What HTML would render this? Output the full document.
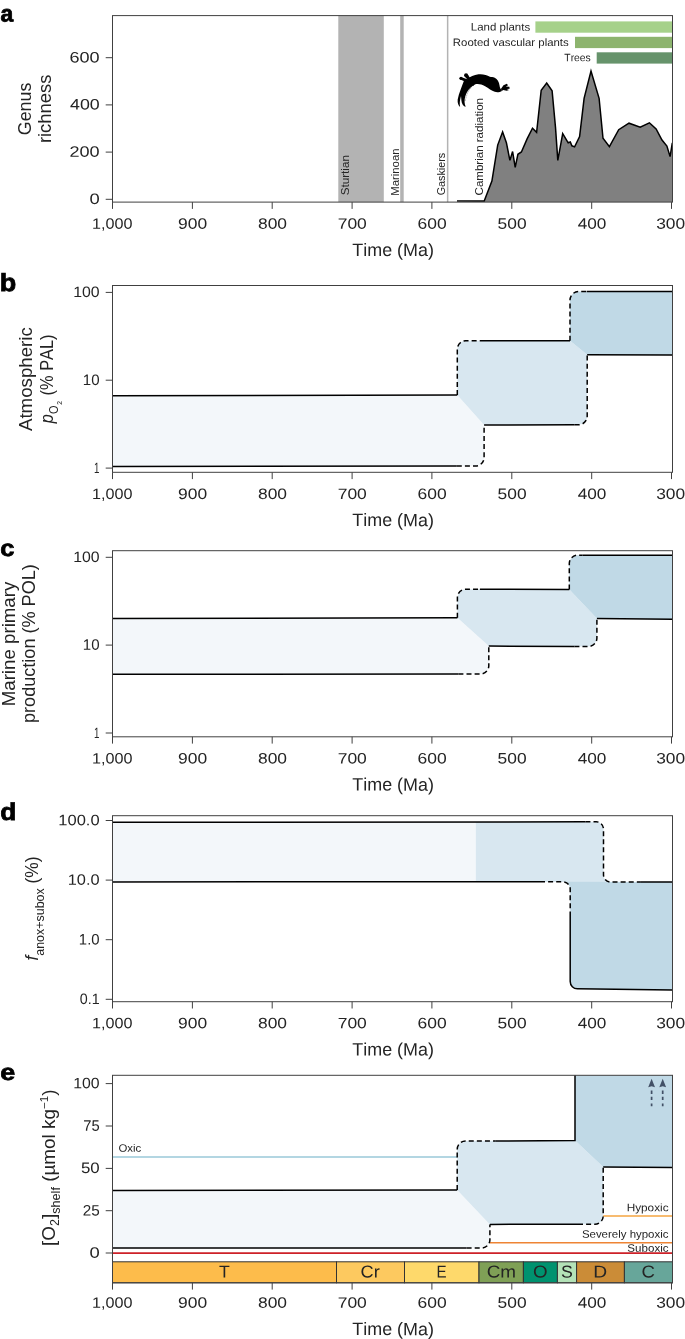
<!DOCTYPE html>
<html><head><meta charset="utf-8"><title>Figure</title>
<style>
html,body{margin:0;padding:0;background:#fff;}
body{width:685px;height:1339px;overflow:hidden;font-family:"Liberation Sans",sans-serif;}
svg{display:block;font-family:"Liberation Sans",sans-serif;will-change:transform;}
text{font-kerning:none;white-space:pre;}
.tx{fill:#242424;}
.pl{fill:#000;stroke:#000;stroke-width:0.7px;}
.ax{stroke:#404040;stroke-width:1;fill:none;}
.bk{stroke:#000;stroke-width:1.5;fill:none;stroke-linejoin:miter;}
.ds{stroke:#000;stroke-width:1.5;fill:none;stroke-dasharray:5 3.1;}
</style></head><body>
<svg width="685" height="1339" viewBox="0 0 685 1339">

<rect x="338.3" y="15.6" width="45.5" height="186.5" fill="#b3b3b3"/>
<rect x="400.2" y="15.6" width="3.5" height="186.5" fill="#b3b3b3"/>
<rect x="446.9" y="15.6" width="1.5" height="186.5" fill="#b3b3b3"/>
<polygon points="457,201 484.2,201 491.9,181.1 497.7,145.1 502.6,132 506.4,142.8 509.9,160.4 512.6,151.5 515.2,167.3 517.9,154.3 521.4,152 527.1,138.9 532.5,128.2 536.6,132.3 541.2,90.2 546.7,83 552.1,90.7 555.5,127.4 557.8,160.4 562.7,133.6 568.2,142.8 570.3,142 571.9,145.8 574.6,146.9 579.6,136.6 584.1,98.3 591,71 599.1,98.3 603,138.2 609.4,146.6 618.7,129.7 629,123.2 640.2,127.1 649.4,122.8 656.1,129 662,140 666.9,146.1 670.1,156.6 672.3,142.8 672.5,202.1 484.2,202.1" fill="#808080"/>
<polyline points="457,201 484.2,201 491.9,181.1 497.7,145.1 502.6,132 506.4,142.8 509.9,160.4 512.6,151.5 515.2,167.3 517.9,154.3 521.4,152 527.1,138.9 532.5,128.2 536.6,132.3 541.2,90.2 546.7,83 552.1,90.7 555.5,127.4 557.8,160.4 562.7,133.6 568.2,142.8 570.3,142 571.9,145.8 574.6,146.9 579.6,136.6 584.1,98.3 591,71 599.1,98.3 603,138.2 609.4,146.6 618.7,129.7 629,123.2 640.2,127.1 649.4,122.8 656.1,129 662,140 666.9,146.1 670.1,156.6 672.3,142.8" class="bk"/>
<rect x="535.4" y="21.4" width="137.1" height="11.3" fill="#a6d18a"/>
<rect x="575.0" y="36.8" width="97.5" height="11.3" fill="#8db46e"/>
<rect x="596.7" y="52.3" width="75.8" height="11.3" fill="#66936b"/>
<text class="tx" transform="translate(470.86,30.60) rotate(0.03) scale(1.0629,1)"><tspan font-size="10.8">Land plants</tspan></text>
<text class="tx" transform="translate(452.86,45.90) rotate(0.03) scale(1.0554,1)"><tspan font-size="10.8">Rooted vascular plants</tspan></text>
<text class="tx" transform="translate(564.37,61.30) rotate(0.03) scale(0.9565,1)"><tspan font-size="10.8">Trees</tspan></text>
<text class="tx" transform="translate(349.20,195.33) rotate(-90) scale(1.0825,1)"><tspan font-size="10.8">Sturtian</tspan></text>
<text class="tx" transform="translate(399.00,195.73) rotate(-90) scale(1.0498,1)"><tspan font-size="10.8">Marinoan</tspan></text>
<text class="tx" transform="translate(445.20,195.34) rotate(-90) scale(0.9982,1)"><tspan font-size="10.8">Gaskiers</tspan></text>
<text class="tx" transform="translate(483.40,195.39) rotate(-90) scale(1.0689,1)"><tspan font-size="10.8">Cambrian radiation</tspan></text>
<g transform="translate(454,68) scale(0.08759)" fill="#000"><path d="M155,125 C185,100 225,78 280,72 C330,66 375,82 410,100 C425,106 445,102 465,110 C495,122 515,160 520,200 C523,225 530,238 540,245 L548,262 C525,275 495,280 465,272 C430,260 395,232 355,208 C320,188 285,180 255,184 C240,186 228,195 222,205 L150,150 Z"/><path d="M535,240 L565,198 L603,180 L617,196 L592,212 L632,214 L636,236 L602,240 L628,252 L602,260 L560,252 L548,264 Z"/><circle cx="80" cy="118" r="19"/><circle cx="138" cy="84" r="23"/><path d="M70,132 L140,160 L160,130 L95,108 Z"/><path d="M125,100 L160,140 L185,118 L158,75 Z"/><path d="M118,135 C95,200 55,290 42,360 C38,400 50,430 70,446 C62,410 66,370 80,320 C84,350 82,390 100,420 C110,435 122,442 134,442 C118,410 116,370 130,320 C145,272 170,232 220,200 L165,130 Z"/><path d="M196,220 L186,240 M180,238 L171,258 M167,258 L159,278 M156,280 L149,300 M147,304 L142,324 M139,330 L135,350 M132,356 L130,376" stroke="#000" stroke-width="3" fill="none"/></g>
<rect class="ax" x="112.5" y="15.6" width="560.0" height="186.5"/>
<line class="ax" x1="112.5" y1="202.1" x2="112.5" y2="208.9"/>
<text class="tx" transform="translate(91.97,228.70) rotate(0.03) scale(1.0708,1)"><tspan font-size="15.1">1,000</tspan></text>
<line class="ax" x1="192.4" y1="202.1" x2="192.4" y2="208.9"/>
<text class="tx" transform="translate(178.04,228.70) rotate(0.03) scale(1.1550,1)"><tspan font-size="15.1">900</tspan></text>
<line class="ax" x1="272.2" y1="202.1" x2="272.2" y2="208.9"/>
<text class="tx" transform="translate(257.96,228.70) rotate(0.03) scale(1.1525,1)"><tspan font-size="15.1">800</tspan></text>
<line class="ax" x1="352.1" y1="202.1" x2="352.1" y2="208.9"/>
<text class="tx" transform="translate(337.68,228.70) rotate(0.03) scale(1.1582,1)"><tspan font-size="15.1">700</tspan></text>
<line class="ax" x1="431.9" y1="202.1" x2="431.9" y2="208.9"/>
<text class="tx" transform="translate(417.55,228.70) rotate(0.03) scale(1.1579,1)"><tspan font-size="15.1">600</tspan></text>
<line class="ax" x1="511.8" y1="202.1" x2="511.8" y2="208.9"/>
<text class="tx" transform="translate(497.60,228.70) rotate(0.03) scale(1.1500,1)"><tspan font-size="15.1">500</tspan></text>
<line class="ax" x1="591.7" y1="202.1" x2="591.7" y2="208.9"/>
<text class="tx" transform="translate(577.77,228.70) rotate(0.03) scale(1.1378,1)"><tspan font-size="15.1">400</tspan></text>
<line class="ax" x1="671.5" y1="202.1" x2="671.5" y2="208.9"/>
<text class="tx" transform="translate(656.16,228.70) rotate(0.03) scale(1.1486,1)"><tspan font-size="15.1">300</tspan></text>
<line class="ax" x1="105.7" y1="199.3" x2="112.5" y2="199.3"/>
<text class="tx" transform="translate(89.48,204.00) rotate(0.03) scale(1.2191,1)"><tspan font-size="15.1">0</tspan></text>
<line class="ax" x1="105.7" y1="152.1" x2="112.5" y2="152.1"/>
<text class="tx" transform="translate(69.49,156.80) rotate(0.03) scale(1.1994,1)"><tspan font-size="15.1">200</tspan></text>
<line class="ax" x1="105.7" y1="104.89999999999998" x2="112.5" y2="104.89999999999998"/>
<text class="tx" transform="translate(69.99,109.60) rotate(0.03) scale(1.1790,1)"><tspan font-size="15.1">400</tspan></text>
<line class="ax" x1="105.7" y1="57.69999999999996" x2="112.5" y2="57.69999999999996"/>
<text class="tx" transform="translate(69.48,62.40) rotate(0.03) scale(1.1998,1)"><tspan font-size="15.1">600</tspan></text>
<text class="tx" transform="translate(352.30,255.90) rotate(0.03) scale(0.9966,1)"><tspan font-size="18.0">Time (Ma)</tspan></text>
<text transform="translate(0.38,21.52) rotate(0.03) scale(0.2288,0.2336)" font-size="100" font-weight="bold" fill="#000" stroke="#000" stroke-width="3.46">a</text>
<text class="tx" transform="translate(31.40,135.20) rotate(-90) scale(0.9907,1)"><tspan font-size="18.0">Genus</tspan></text>
<text class="tx" transform="translate(51.00,143.12) rotate(-90) scale(1.0218,1)"><tspan font-size="18.0">richness</tspan></text>
<path d="M112.5,395.8 L457.3,395 L484.1,425 L484.1,457.5 A8.5,8.5 0 0 1 475.6,466 L112.5,466.6 Z" fill="#f3f7fa"/>
<path d="M457.3,395 L457.3,349.3 A8.5,8.5 0 0 1 465.8,340.8 L570,340.8 L587.2,354.7 L587.2,416.2 A8.5,8.5 0 0 1 578.7,424.7 L484.1,425 Z" fill="#d8e7f0"/>
<path d="M570,340.8 L570,300.1 A8.5,8.5 0 0 1 578.5,291.6 L672.5,291.6 L672.5,354.9 L587.2,354.7 Z" fill="#c0d9e6"/>
<path class="bk" d="M112.5,395.8 L457.3,395 M112.5,466.6 L456.8,466 M480,340.8 L570,340.8 M484.1,425 L574.7,424.7 M586.8,291.6 L672.5,291.6 M587.2,354.7 L672.5,354.9"/>
<path class="ds" d="M456.8,466 L475.6,466 A8.5,8.5 0 0 0 484.1,457.5 L484.1,425"/>
<path class="ds" d="M457.3,395 L457.3,349.3 A8.5,8.5 0 0 1 465.8,340.8 L480,340.8"/>
<path class="ds" d="M574.7,424.7 L578.7,424.7 A8.5,8.5 0 0 0 587.2,416.2 L587.2,354.7"/>
<path class="ds" d="M570,340.8 L570,300.1 A8.5,8.5 0 0 1 578.5,291.6 L586.8,291.6"/>
<rect class="ax" x="112.5" y="285.5" width="560.0" height="186.8"/>
<line class="ax" x1="112.5" y1="472.3" x2="112.5" y2="479.1"/>
<text class="tx" transform="translate(91.97,498.90) rotate(0.03) scale(1.0708,1)"><tspan font-size="15.1">1,000</tspan></text>
<line class="ax" x1="192.4" y1="472.3" x2="192.4" y2="479.1"/>
<text class="tx" transform="translate(178.04,498.90) rotate(0.03) scale(1.1550,1)"><tspan font-size="15.1">900</tspan></text>
<line class="ax" x1="272.2" y1="472.3" x2="272.2" y2="479.1"/>
<text class="tx" transform="translate(257.96,498.90) rotate(0.03) scale(1.1525,1)"><tspan font-size="15.1">800</tspan></text>
<line class="ax" x1="352.1" y1="472.3" x2="352.1" y2="479.1"/>
<text class="tx" transform="translate(337.68,498.90) rotate(0.03) scale(1.1582,1)"><tspan font-size="15.1">700</tspan></text>
<line class="ax" x1="431.9" y1="472.3" x2="431.9" y2="479.1"/>
<text class="tx" transform="translate(417.55,498.90) rotate(0.03) scale(1.1579,1)"><tspan font-size="15.1">600</tspan></text>
<line class="ax" x1="511.8" y1="472.3" x2="511.8" y2="479.1"/>
<text class="tx" transform="translate(497.60,498.90) rotate(0.03) scale(1.1500,1)"><tspan font-size="15.1">500</tspan></text>
<line class="ax" x1="591.7" y1="472.3" x2="591.7" y2="479.1"/>
<text class="tx" transform="translate(577.77,498.90) rotate(0.03) scale(1.1378,1)"><tspan font-size="15.1">400</tspan></text>
<line class="ax" x1="671.5" y1="472.3" x2="671.5" y2="479.1"/>
<text class="tx" transform="translate(656.16,498.90) rotate(0.03) scale(1.1486,1)"><tspan font-size="15.1">300</tspan></text>
<line class="ax" x1="105.7" y1="292.4" x2="112.5" y2="292.4"/>
<text class="tx" transform="translate(73.19,297.10) rotate(0.03) scale(1.0489,1)"><tspan font-size="15.1">100</tspan></text>
<line class="ax" x1="105.7" y1="380.2" x2="112.5" y2="380.2"/>
<text class="tx" transform="translate(82.85,384.90) rotate(0.03) scale(0.9963,1)"><tspan font-size="15.1">10</tspan></text>
<line class="ax" x1="105.7" y1="468.1" x2="112.5" y2="468.1"/>
<text class="tx" transform="translate(94.06,472.80) rotate(0.03) scale(0.6451,1)"><tspan font-size="15.1">1</tspan></text>
<text class="tx" transform="translate(352.30,526.10) rotate(0.03) scale(0.9966,1)"><tspan font-size="18.0">Time (Ma)</tspan></text>
<text transform="translate(-0.13,291.01) rotate(0.03) scale(0.2699,0.2478)" font-size="100" font-weight="bold" fill="#000" stroke="#000" stroke-width="3.09">b</text>
<text class="tx" transform="translate(31.60,431.04) rotate(-90) scale(1.0389,1)"><tspan font-size="18.0">Atmospheric</tspan></text>
<text class="tx" transform="translate(53.00,423.19) rotate(-90) scale(0.9111,1)"><tspan font-size="18.0" font-style="italic">p</tspan><tspan font-size="12" dy="4.80">O</tspan><tspan font-size="3"> </tspan><tspan font-size="7.5" dy="4.70">2</tspan><tspan font-size="4"> </tspan><tspan font-size="18.0" dy="-9.50"> (% PAL)</tspan></text>
<path d="M112.5,618.6 L457.4,617.7 L488.8,646.1 L488.8,665.7 A8.3,8.3 0 0 1 480.5,674 L112.5,674.3 Z" fill="#f3f7fa"/>
<path d="M457.4,617.7 L457.4,597.5 A8.3,8.3 0 0 1 465.7,589.2 L569.3,589.5 L596.9,618.6 L596.9,638.1 A8.3,8.3 0 0 1 588.6,646.4 L488.8,646.1 Z" fill="#d8e7f0"/>
<path d="M569.3,589.5 L569.3,563.5 A8.3,8.3 0 0 1 577.6,555.2 L672.5,555.2 L672.5,619.2 L596.9,618.6 Z" fill="#c0d9e6"/>
<path class="bk" d="M112.5,618.6 L457.4,617.7 M112.5,674.3 L458.4,674 M479.9,589.2 L569.3,589.5 M488.8,646.1 L574.4,646.4 M582.6,555.2 L672.5,555.2 M596.9,618.6 L672.5,619.2"/>
<path class="ds" d="M458.4,674 L480.5,674 A8.3,8.3 0 0 0 488.8,665.7 L488.8,646.1"/>
<path class="ds" d="M457.4,617.7 L457.4,597.5 A8.3,8.3 0 0 1 465.7,589.2 L479.9,589.2"/>
<path class="ds" d="M574.4,646.4 L588.6,646.4 A8.3,8.3 0 0 0 596.9,638.1 L596.9,618.6"/>
<path class="ds" d="M569.3,589.5 L569.3,563.5 A8.3,8.3 0 0 1 577.6,555.2 L582.6,555.2"/>
<rect class="ax" x="112.5" y="550.7" width="560.0" height="186.1"/>
<line class="ax" x1="112.5" y1="736.8" x2="112.5" y2="743.6"/>
<text class="tx" transform="translate(91.97,763.40) rotate(0.03) scale(1.0708,1)"><tspan font-size="15.1">1,000</tspan></text>
<line class="ax" x1="192.4" y1="736.8" x2="192.4" y2="743.6"/>
<text class="tx" transform="translate(178.04,763.40) rotate(0.03) scale(1.1550,1)"><tspan font-size="15.1">900</tspan></text>
<line class="ax" x1="272.2" y1="736.8" x2="272.2" y2="743.6"/>
<text class="tx" transform="translate(257.96,763.40) rotate(0.03) scale(1.1525,1)"><tspan font-size="15.1">800</tspan></text>
<line class="ax" x1="352.1" y1="736.8" x2="352.1" y2="743.6"/>
<text class="tx" transform="translate(337.68,763.40) rotate(0.03) scale(1.1582,1)"><tspan font-size="15.1">700</tspan></text>
<line class="ax" x1="431.9" y1="736.8" x2="431.9" y2="743.6"/>
<text class="tx" transform="translate(417.55,763.40) rotate(0.03) scale(1.1579,1)"><tspan font-size="15.1">600</tspan></text>
<line class="ax" x1="511.8" y1="736.8" x2="511.8" y2="743.6"/>
<text class="tx" transform="translate(497.60,763.40) rotate(0.03) scale(1.1500,1)"><tspan font-size="15.1">500</tspan></text>
<line class="ax" x1="591.7" y1="736.8" x2="591.7" y2="743.6"/>
<text class="tx" transform="translate(577.77,763.40) rotate(0.03) scale(1.1378,1)"><tspan font-size="15.1">400</tspan></text>
<line class="ax" x1="671.5" y1="736.8" x2="671.5" y2="743.6"/>
<text class="tx" transform="translate(656.16,763.40) rotate(0.03) scale(1.1486,1)"><tspan font-size="15.1">300</tspan></text>
<line class="ax" x1="105.7" y1="557.3" x2="112.5" y2="557.3"/>
<text class="tx" transform="translate(73.19,562.00) rotate(0.03) scale(1.0489,1)"><tspan font-size="15.1">100</tspan></text>
<line class="ax" x1="105.7" y1="645.1" x2="112.5" y2="645.1"/>
<text class="tx" transform="translate(82.85,649.80) rotate(0.03) scale(0.9963,1)"><tspan font-size="15.1">10</tspan></text>
<line class="ax" x1="105.7" y1="733" x2="112.5" y2="733"/>
<text class="tx" transform="translate(94.06,737.70) rotate(0.03) scale(0.6451,1)"><tspan font-size="15.1">1</tspan></text>
<text class="tx" transform="translate(352.30,790.60) rotate(0.03) scale(0.9966,1)"><tspan font-size="18.0">Time (Ma)</tspan></text>
<text transform="translate(0.36,556.12) rotate(0.03) scale(0.2542,0.2318)" font-size="100" font-weight="bold" fill="#000" stroke="#000" stroke-width="3.29">c</text>
<text class="tx" transform="translate(15.00,706.33) rotate(-90) scale(1.0396,1)"><tspan font-size="18.0">Marine primary</tspan></text>
<text class="tx" transform="translate(35.10,722.97) rotate(-90) scale(1.0052,1)"><tspan font-size="18.0">production (% POL)</tspan></text>
<path d="M112.5,822.3 L475.8,822 L475.8,881.9 L112.5,881.9 Z" fill="#f3f7fa"/>
<path d="M475.8,822 L596.3,821.8 A7.2,7.2 0 0 1 603.5,829 L603.5,874.8 A7.2,7.2 0 0 0 610.7,882 L475.8,881.9 Z" fill="#d8e7f0"/>
<path d="M563,881.8 A7.2,7.2 0 0 1 570.2,889 L570.2,981.6 A7.2,7.2 0 0 0 577.4,988.8 L672.5,990 L672.5,882 Z" fill="#c0d9e6"/>
<path class="bk" d="M112.5,822.3 L585.4,821.8 M112.5,881.9 L540,881.8 M640.9,882 L672.5,882 M570.2,912 L570.2,981.6 A7.2,7.2 0 0 0 577.4,988.8 L672.5,990"/>
<path class="ds" d="M585.4,821.8 L596.3,821.8 A7.2,7.2 0 0 1 603.5,829 L603.5,874.8 A7.2,7.2 0 0 0 610.7,882 L640.9,882"/>
<path class="ds" d="M540,881.8 L563,881.8 A7.2,7.2 0 0 1 570.2,889 L570.2,912"/>
<rect class="ax" x="112.5" y="815.7" width="560.0" height="186.0"/>
<line class="ax" x1="112.5" y1="1001.7" x2="112.5" y2="1008.5"/>
<text class="tx" transform="translate(91.97,1028.30) rotate(0.03) scale(1.0708,1)"><tspan font-size="15.1">1,000</tspan></text>
<line class="ax" x1="192.4" y1="1001.7" x2="192.4" y2="1008.5"/>
<text class="tx" transform="translate(178.04,1028.30) rotate(0.03) scale(1.1550,1)"><tspan font-size="15.1">900</tspan></text>
<line class="ax" x1="272.2" y1="1001.7" x2="272.2" y2="1008.5"/>
<text class="tx" transform="translate(257.96,1028.30) rotate(0.03) scale(1.1525,1)"><tspan font-size="15.1">800</tspan></text>
<line class="ax" x1="352.1" y1="1001.7" x2="352.1" y2="1008.5"/>
<text class="tx" transform="translate(337.68,1028.30) rotate(0.03) scale(1.1582,1)"><tspan font-size="15.1">700</tspan></text>
<line class="ax" x1="431.9" y1="1001.7" x2="431.9" y2="1008.5"/>
<text class="tx" transform="translate(417.55,1028.30) rotate(0.03) scale(1.1579,1)"><tspan font-size="15.1">600</tspan></text>
<line class="ax" x1="511.8" y1="1001.7" x2="511.8" y2="1008.5"/>
<text class="tx" transform="translate(497.60,1028.30) rotate(0.03) scale(1.1500,1)"><tspan font-size="15.1">500</tspan></text>
<line class="ax" x1="591.7" y1="1001.7" x2="591.7" y2="1008.5"/>
<text class="tx" transform="translate(577.77,1028.30) rotate(0.03) scale(1.1378,1)"><tspan font-size="15.1">400</tspan></text>
<line class="ax" x1="671.5" y1="1001.7" x2="671.5" y2="1008.5"/>
<text class="tx" transform="translate(656.16,1028.30) rotate(0.03) scale(1.1486,1)"><tspan font-size="15.1">300</tspan></text>
<line class="ax" x1="105.7" y1="820.5" x2="112.5" y2="820.5"/>
<text class="tx" transform="translate(58.34,825.20) rotate(0.03) scale(1.0930,1)"><tspan font-size="15.1">100.0</tspan></text>
<line class="ax" x1="105.7" y1="880.1" x2="112.5" y2="880.1"/>
<text class="tx" transform="translate(67.75,884.80) rotate(0.03) scale(1.0850,1)"><tspan font-size="15.1">10.0</tspan></text>
<line class="ax" x1="105.7" y1="939.7" x2="112.5" y2="939.7"/>
<text class="tx" transform="translate(78.86,944.40) rotate(0.03) scale(0.9870,1)"><tspan font-size="15.1">1.0</tspan></text>
<line class="ax" x1="105.7" y1="999.3" x2="112.5" y2="999.3"/>
<text class="tx" transform="translate(79.84,1004.00) rotate(0.03) scale(0.9459,1)"><tspan font-size="15.1">0.1</tspan></text>
<text class="tx" transform="translate(352.30,1055.50) rotate(0.03) scale(0.9966,1)"><tspan font-size="18.0">Time (Ma)</tspan></text>
<text transform="translate(0.28,820.01) rotate(0.03) scale(0.2620,0.2424)" font-size="100" font-weight="bold" fill="#000" stroke="#000" stroke-width="3.17">d</text>
<text class="tx" transform="translate(38.40,960.59) rotate(-90) scale(0.9661,1)"><tspan font-size="18.0" font-style="italic">f</tspan><tspan font-size="12.9" dy="5.20">anox+subox</tspan><tspan font-size="18.0" dy="-5.20"> (%)</tspan></text>
<path d="M112.5,1190.4 L457.2,1189.9 L489.9,1224.4 L489.9,1239.7 A8.3,8.3 0 0 1 481.6,1248 L112.5,1248.1 Z" fill="#f3f7fa"/>
<path d="M457.2,1189.9 L457.2,1149.4 A8.3,8.3 0 0 1 465.5,1141.1 L575.0,1140.4 L603.2,1167 L603.2,1215.9 A8.3,8.3 0 0 1 594.9,1224.2 L489.9,1224.4 Z" fill="#d8e7f0"/>
<path d="M575.0,1140.4 L575.0,1075.3 L672.5,1075.3 L672.5,1167.6 L603.2,1167 Z" fill="#c0d9e6"/>
<line x1="112.5" y1="1157" x2="457.2" y2="1157" stroke="#9ac9d9" stroke-width="1.5"/>
<line x1="603.2" y1="1215.9" x2="672.5" y2="1215.9" stroke="#f4a540" stroke-width="1.5"/>
<line x1="489.9" y1="1242.8" x2="672.5" y2="1242.8" stroke="#ee8434" stroke-width="1.5"/>
<line x1="112.5" y1="1253.1" x2="672.5" y2="1253.1" stroke="#cd2128" stroke-width="1.6"/>
<path class="bk" d="M112.5,1190.4 L457.2,1189.9 M112.5,1248.1 L466.6,1248 M495.2,1141 L575.0,1140.4 L575.0,1075.3 M489.9,1224.4 L578,1224.2 M603.2,1167 L672.5,1167.6"/>
<path class="ds" d="M466.6,1248 L481.6,1248 A8.3,8.3 0 0 0 489.9,1239.7 L489.9,1224.4"/>
<path class="ds" d="M457.2,1189.9 L457.2,1149.4 A8.3,8.3 0 0 1 465.5,1141.1 L495.2,1141"/>
<path class="ds" d="M578,1224.2 L594.9,1224.2 A8.3,8.3 0 0 0 603.2,1215.9 L603.2,1167"/>
<text class="tx" transform="translate(118.46,1151.80) rotate(0.03) scale(1.0575,1)"><tspan font-size="10.8">Oxic</tspan></text>
<text class="tx" transform="translate(626.63,1211.20) rotate(0.03) scale(1.0929,1)"><tspan font-size="10.8">Hypoxic</tspan></text>
<text class="tx" transform="translate(581.88,1237.80) rotate(0.03) scale(1.0623,1)"><tspan font-size="10.8">Severely hypoxic</tspan></text>
<text class="tx" transform="translate(627.37,1251.80) rotate(0.03) scale(1.0731,1)"><tspan font-size="10.8">Suboxic</tspan></text>
<path d="M651.6,1090.4 V1093.9 M651.6,1096.8 V1100.1 M651.6,1103.4 V1106.2" stroke="#425066" stroke-width="1.7" fill="none"/>
<path d="M651.6,1078.8 L655.0,1087.2 L651.6,1086.2 L648.2,1087.2 Z" fill="#425066"/>
<path d="M662.7,1090.4 V1093.9 M662.7,1096.8 V1100.1 M662.7,1103.4 V1106.2" stroke="#425066" stroke-width="1.7" fill="none"/>
<path d="M662.7,1078.8 L666.1,1087.2 L662.7,1086.2 L659.3000000000001,1087.2 Z" fill="#425066"/>
<rect x="112.5" y="1261.8" width="224.0" height="21.0" fill="#fdbc4b" stroke="#333333" stroke-width="1"/>
<text class="tx" transform="translate(219.10,1277.50) rotate(0.03) scale(1.0282,1)" fill="#111111"><tspan font-size="17.2">T</tspan></text>
<rect x="336.5" y="1261.8" width="68.0" height="21.0" fill="#fdc95f" stroke="#333333" stroke-width="1"/>
<text class="tx" transform="translate(360.57,1277.50) rotate(0.03) scale(1.0594,1)" fill="#111111"><tspan font-size="17.2">Cr</tspan></text>
<rect x="404.5" y="1261.8" width="74.5" height="21.0" fill="#fed96b" stroke="#333333" stroke-width="1"/>
<text class="tx" transform="translate(436.41,1277.50) rotate(0.03) scale(0.8796,1)" fill="#111111"><tspan font-size="17.2">E</tspan></text>
<rect x="479.0" y="1261.8" width="44.4" height="21.0" fill="#7fa056" stroke="#333333" stroke-width="1"/>
<text class="tx" transform="translate(486.64,1277.50) rotate(0.03) scale(1.0994,1)" fill="#111111"><tspan font-size="17.2">Cm</tspan></text>
<rect x="523.4" y="1261.8" width="34.0" height="21.0" fill="#00926f" stroke="#333333" stroke-width="1"/>
<text class="tx" transform="translate(533.11,1277.50) rotate(0.03) scale(1.0902,1)" fill="#111111"><tspan font-size="17.2">O</tspan></text>
<rect x="557.4" y="1261.8" width="19.2" height="21.0" fill="#b3e2b7" stroke="#333333" stroke-width="1"/>
<text class="tx" transform="translate(561.10,1277.50) rotate(0.03) scale(1.0301,1)" fill="#111111"><tspan font-size="17.2">S</tspan></text>
<rect x="576.6" y="1261.8" width="47.8" height="21.0" fill="#cb8c37" stroke="#333333" stroke-width="1"/>
<text class="tx" transform="translate(593.22,1277.50) rotate(0.03) scale(1.1190,1)" fill="#111111"><tspan font-size="17.2">D</tspan></text>
<rect x="624.4" y="1261.8" width="48.1" height="21.0" fill="#67a69a" stroke="#333333" stroke-width="1"/>
<text class="tx" transform="translate(641.60,1277.50) rotate(0.03) scale(1.0833,1)" fill="#111111"><tspan font-size="17.2">C</tspan></text>
<rect class="ax" x="112.5" y="1075.3" width="560.0" height="207.5"/>
<line class="ax" x1="112.5" y1="1282.8" x2="112.5" y2="1289.6"/>
<text class="tx" transform="translate(91.97,1307.70) rotate(0.03) scale(1.0708,1)"><tspan font-size="15.1">1,000</tspan></text>
<line class="ax" x1="192.4" y1="1282.8" x2="192.4" y2="1289.6"/>
<text class="tx" transform="translate(178.04,1307.70) rotate(0.03) scale(1.1550,1)"><tspan font-size="15.1">900</tspan></text>
<line class="ax" x1="272.2" y1="1282.8" x2="272.2" y2="1289.6"/>
<text class="tx" transform="translate(257.96,1307.70) rotate(0.03) scale(1.1525,1)"><tspan font-size="15.1">800</tspan></text>
<line class="ax" x1="352.1" y1="1282.8" x2="352.1" y2="1289.6"/>
<text class="tx" transform="translate(337.68,1307.70) rotate(0.03) scale(1.1582,1)"><tspan font-size="15.1">700</tspan></text>
<line class="ax" x1="431.9" y1="1282.8" x2="431.9" y2="1289.6"/>
<text class="tx" transform="translate(417.55,1307.70) rotate(0.03) scale(1.1579,1)"><tspan font-size="15.1">600</tspan></text>
<line class="ax" x1="511.8" y1="1282.8" x2="511.8" y2="1289.6"/>
<text class="tx" transform="translate(497.60,1307.70) rotate(0.03) scale(1.1500,1)"><tspan font-size="15.1">500</tspan></text>
<line class="ax" x1="591.7" y1="1282.8" x2="591.7" y2="1289.6"/>
<text class="tx" transform="translate(577.77,1307.70) rotate(0.03) scale(1.1378,1)"><tspan font-size="15.1">400</tspan></text>
<line class="ax" x1="671.5" y1="1282.8" x2="671.5" y2="1289.6"/>
<text class="tx" transform="translate(656.16,1307.70) rotate(0.03) scale(1.1486,1)"><tspan font-size="15.1">300</tspan></text>
<line class="ax" x1="105.7" y1="1083.6" x2="112.5" y2="1083.6"/>
<text class="tx" transform="translate(73.19,1088.30) rotate(0.03) scale(1.0489,1)"><tspan font-size="15.1">100</tspan></text>
<line class="ax" x1="105.7" y1="1126" x2="112.5" y2="1126"/>
<text class="tx" transform="translate(83.25,1130.70) rotate(0.03) scale(0.9748,1)"><tspan font-size="15.1">75</tspan></text>
<line class="ax" x1="105.7" y1="1168.4" x2="112.5" y2="1168.4"/>
<text class="tx" transform="translate(80.93,1173.10) rotate(0.03) scale(1.1153,1)"><tspan font-size="15.1">50</tspan></text>
<line class="ax" x1="105.7" y1="1210.7" x2="112.5" y2="1210.7"/>
<text class="tx" transform="translate(82.63,1215.40) rotate(0.03) scale(1.0128,1)"><tspan font-size="15.1">25</tspan></text>
<line class="ax" x1="105.7" y1="1253" x2="112.5" y2="1253"/>
<text class="tx" transform="translate(89.48,1257.70) rotate(0.03) scale(1.2191,1)"><tspan font-size="15.1">0</tspan></text>
<text class="tx" transform="translate(352.30,1335.10) rotate(0.03) scale(0.9966,1)"><tspan font-size="18.0">Time (Ma)</tspan></text>
<text transform="translate(0.30,1079.93) rotate(0.03) scale(0.2692,0.2282)" font-size="100" font-weight="bold" fill="#000" stroke="#000" stroke-width="3.22">e</text>
<text class="tx" transform="translate(54.50,1245.95) rotate(-90) scale(1.0509,1)"><tspan font-size="18.0">[O</tspan><tspan font-size="12" dy="4.60">2</tspan><tspan font-size="18.0" dy="-4.60">]</tspan><tspan font-size="12" dy="5.00">shelf</tspan><tspan font-size="18.0" dy="-5.00"> (µmol kg</tspan><tspan font-size="11" dy="-6.50">−1</tspan><tspan font-size="18.0" dy="6.50">)</tspan></text>
</svg>
</body></html>
